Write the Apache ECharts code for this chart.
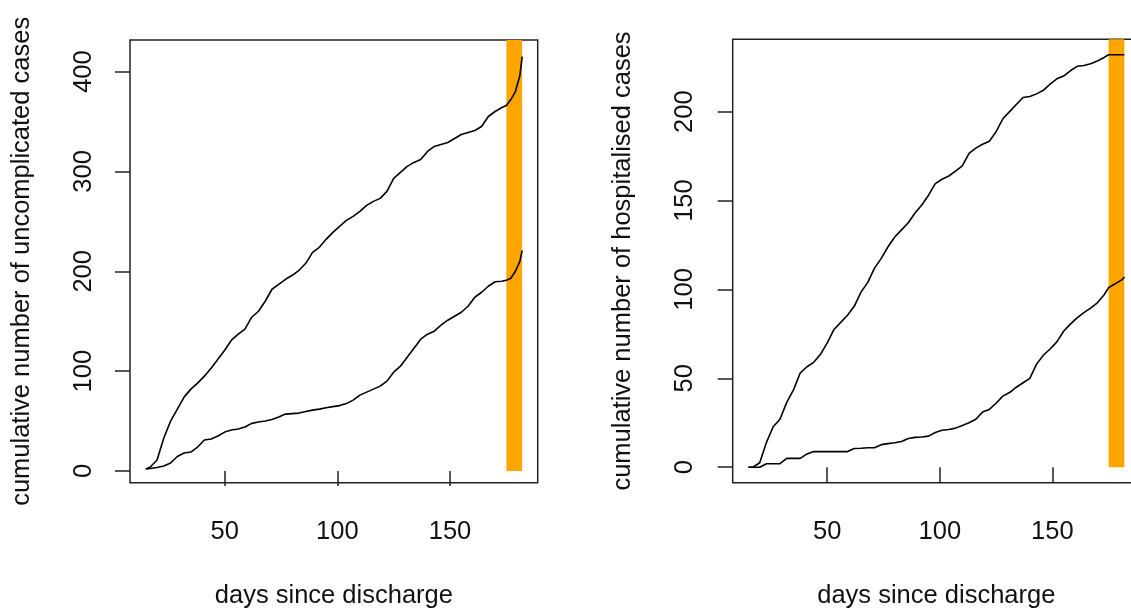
<!DOCTYPE html>
<html>
<head>
<meta charset="utf-8">
<script src="https://cdn.jsdelivr.net/npm/echarts@6/dist/echarts.min.js"></script>
<style>
html,body{margin:0;padding:0;background:#fff;}
#chart{width:1131px;height:612px;}
</style>
</head>
<body>
<div id="chart"></div>
<script>
// ---------- data ----------
const days = [15,17,20,23,26,29,32,35,38,41,44,47,50,53,56,59,62,65,68,71,74,77,80,83,86,89,92,95,98,101,104,107,110,113,116,119,122,125,128,131,134,137,140,143,146,149,152,155,158,161,164,167,170,173,175,177,179,181,182];

const uncomplicatedUpper = [2,4,11,33,50,62,74,82,88,95,103,112,121,131,137,142,154,160,170,182,187,192,196,201,208,219,224,232,239,245,251,255,260,266,270,273,280,293,299,305,309,312,320,325,327,329,333,337,339,341,345,355,360,364,366,372,380,396,415];
const uncomplicatedLower = [2,2.5,3.5,5,8,14.5,18,19,24,31,32,35,39,41,42,44,47.7,49,50,51.6,54,57,57.5,58,59.6,61,62,63.3,64.5,65.5,67.5,71,76,79,82,85,90,99,105,114,123,132,137,140,146,151,155,159,165,174,179,185,189.5,190,191,193,200,210,221];

const hospitalisedUpper = [0,0,2.5,14,22.8,27,36.5,43.5,53,56.5,59,63.5,70,77.5,81.5,85.5,90.5,98.5,104,112,117.5,124,129.5,133.5,137.5,143,147.5,153,159.5,162,163.8,166.5,169.5,176.5,179.5,181.7,183.4,188.7,196,200,204,208,208.5,210,212,215.5,218.5,220,223,225.5,226,227,228.5,230.5,232,232,232,232,232];
const hospitalisedLower = [0,0,0,2,2,2,5,5,5,7.5,8.8,8.8,8.8,8.8,8.8,8.8,10.5,10.7,11,11,12.7,13.3,13.8,14.5,16.2,16.8,17,17.5,19.5,20.8,21.2,22,23.5,25,27,31,32.5,36,40,42,45,47.5,50,58,63,66.5,70.5,76.5,80.5,84,87,89.5,92.5,97,101,102.5,104,105.5,107];

const bandStart = 175;
const bandEnd = 182;

const xTicks = [50, 100, 150];
const yTicksLeft = [0, 100, 200, 300, 400];
const yTicksRight = [0, 50, 100, 150, 200];

const xName = 'days since discharge';
const yNameLeft = 'cumulative number of uncomplicated cases';
const yNameRight = 'cumulative number of hospitalised cases';

// ---------- chart ----------
const FONT = 'Liberation Sans, Arial, sans-serif';
const FS = 25.5;
const xMin = 8.0, xMax = 188.9;
const yLeftMin = -11.7, yLeftMax = 431.6;
const yRightMin = -8.7, yRightMax = 240.7;

const pair = arr => days.map((d, i) => [d, arr[i]]);

function xAxisCfg(idx) {
  return {
    type: 'value', gridIndex: idx, min: xMin, max: xMax,
    name: xName, nameLocation: 'middle', nameGap: 100,
    nameTextStyle: {fontFamily: FONT, fontSize: FS, color: '#111'},
    axisLine: {show: false},
    axisTick: {show: true, inside: false, length: 15, customValues: xTicks, lineStyle: {color: '#222', width: 1.5}},
    axisLabel: {show: true, margin: 36, customValues: xTicks, fontFamily: FONT, fontSize: FS, color: '#111'},
    splitLine: {show: false}
  };
}
function yAxisCfg(idx, mn, mx, ticks, name, labelMargin, nameGap) {
  return {
    type: 'value', gridIndex: idx, min: mn, max: mx,
    name: name, nameLocation: 'middle', nameGap: nameGap,
    nameTextStyle: {fontFamily: FONT, fontSize: FS, color: '#111'},
    axisLine: {show: false},
    axisTick: {show: true, inside: false, length: 15, customValues: ticks, lineStyle: {color: '#222', width: 1.5}},
    axisLabel: {show: true, rotate: 90, margin: labelMargin, customValues: ticks, fontFamily: FONT, fontSize: FS, color: '#111'},
    splitLine: {show: false}
  };
}
function curve(xi, yi, arr) {
  return {
    type: 'line', xAxisIndex: xi, yAxisIndex: yi, data: pair(arr),
    showSymbol: false, symbol: 'none', z: 3, silent: true,
    lineStyle: {color: '#000', width: 1.6}
  };
}
function band(xi, yi, top) {
  return {
    type: 'line', xAxisIndex: xi, yAxisIndex: yi, data: [], z: 1, silent: true,
    markArea: {
      silent: true,
      itemStyle: {color: '#FFA500', opacity: 1},
      data: [[{coord: [bandStart, 0]}, {coord: [bandEnd, top]}]]
    }
  };
}

const chart = echarts.init(document.getElementById('chart'), null, {renderer: 'canvas'});
chart.setOption({
  animation: false,
  backgroundColor: '#fff',
  grid: [
    {left: 130, top: 40, width: 407.7, height: 442.7, show: true, borderColor: '#222', borderWidth: 1.5, backgroundColor: 'transparent', containLabel: false, outerBoundsMode: 'none'},
    {left: 732.7, top: 39.3, width: 407.2, height: 443.4, show: true, borderColor: '#222', borderWidth: 1.5, backgroundColor: 'transparent', containLabel: false, outerBoundsMode: 'none'}
  ],
  xAxis: [xAxisCfg(0), xAxisCfg(1)],
  yAxis: [
    yAxisCfg(0, yLeftMin, yLeftMax, yTicksLeft, yNameLeft, 33, 95),
    yAxisCfg(1, yRightMin, yRightMax, yTicksRight, yNameRight, 35, 97)
  ],
  series: [
    band(0, 0, yLeftMax),
    band(1, 1, yRightMax),
    curve(0, 0, uncomplicatedUpper),
    curve(0, 0, uncomplicatedLower),
    curve(1, 1, hospitalisedUpper),
    curve(1, 1, hospitalisedLower)
  ]
});
</script>
</body>
</html>
